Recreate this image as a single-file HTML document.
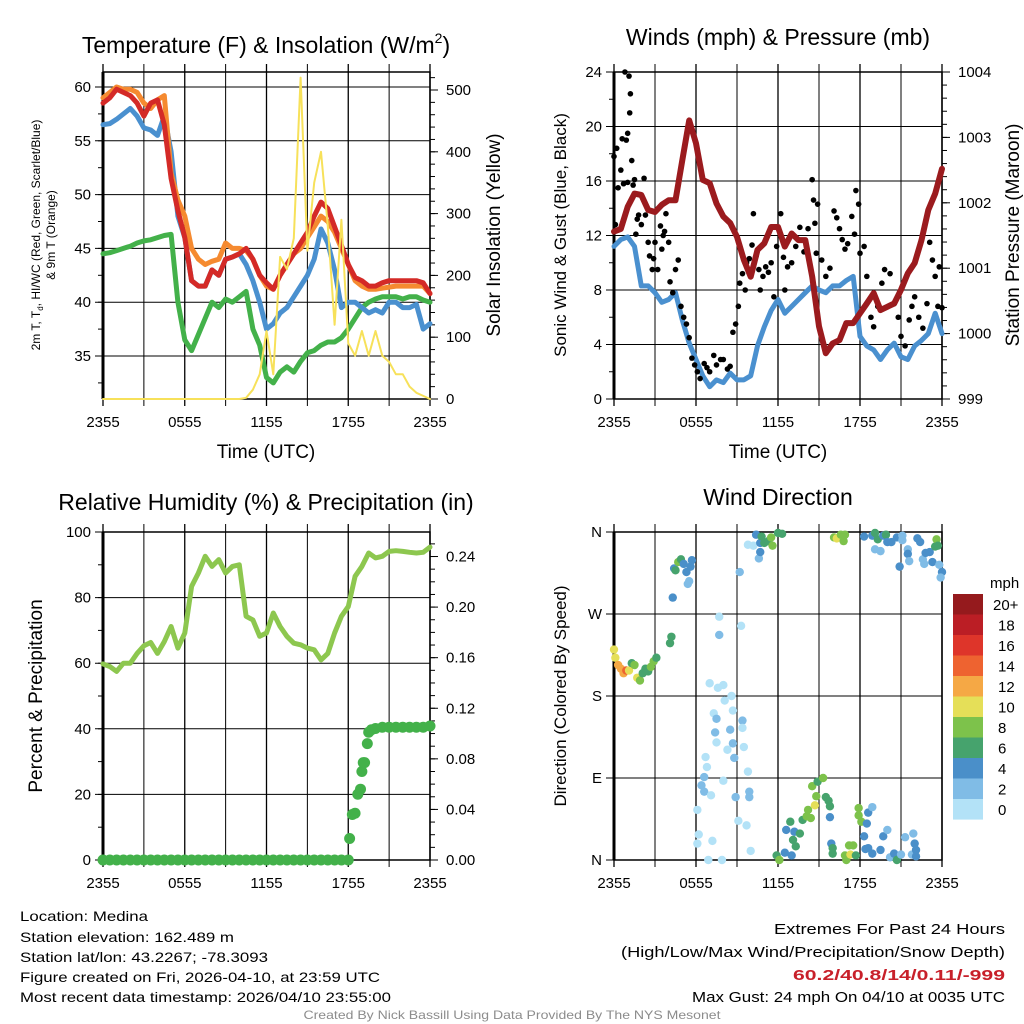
<!DOCTYPE html>
<html><head><meta charset="utf-8"><style>
html,body{margin:0;padding:0;background:#fff}
svg{display:block;font-family:"Liberation Sans",sans-serif}
</style></head><body>
<svg id="c" width="1024" height="1024" viewBox="0 0 1024 1024" xmlns="http://www.w3.org/2000/svg">
<g>
<text x="266" y="53" font-size="23" text-anchor="middle">Temperature (F) &amp; Insolation (W/m<tspan font-size="14" dy="-10">2</tspan><tspan dy="10">)</tspan></text>
<text transform="translate(40,235) rotate(-90)" font-size="12" text-anchor="middle">2m T, T<tspan font-size="8" dy="3">d</tspan><tspan dy="-3">, HI/WC (Red, Green, Scarlet/Blue)</tspan></text>
<text transform="translate(55,235) rotate(-90)" font-size="12" text-anchor="middle">&amp; 9m T (Orange)</text>
<text transform="translate(500,235) rotate(-90)" font-size="19" text-anchor="middle">Solar Insolation (Yellow)</text>
<text x="266" y="458" font-size="19" text-anchor="middle">Time (UTC)</text>
</g>
<g>
<text x="778" y="45" font-size="23" text-anchor="middle">Winds (mph) &amp; Pressure (mb)</text>
<text transform="translate(566,235) rotate(-90)" font-size="17" text-anchor="middle">Sonic Wind &amp; Gust (Blue, Black)</text>
<text transform="translate(1019,235) rotate(-90)" font-size="19" text-anchor="middle">Station Pressure (Maroon)</text>
<text x="778" y="458" font-size="19" text-anchor="middle">Time (UTC)</text>
</g>
<g>
<text x="266" y="510" font-size="23" text-anchor="middle">Relative Humidity (%) &amp; Precipitation (in)</text>
<text transform="translate(42,696) rotate(-90)" font-size="19" text-anchor="middle">Percent &amp; Precipitation</text>
</g>
<g>
<text x="778" y="505" font-size="23" text-anchor="middle">Wind Direction</text>
<text transform="translate(566,696) rotate(-90)" font-size="17" text-anchor="middle">Direction (Colored By Speed)</text>
<text x="990" y="588" font-size="15">mph</text>
</g>
<g font-size="14">
<text x="20" y="921" textLength="128" lengthAdjust="spacingAndGlyphs">Location: Medina</text>
<text x="20" y="942" textLength="214" lengthAdjust="spacingAndGlyphs">Station elevation: 162.489 m</text>
<text x="20" y="962" textLength="248" lengthAdjust="spacingAndGlyphs">Station lat/lon: 43.2267; -78.3093</text>
<text x="20" y="982" textLength="360" lengthAdjust="spacingAndGlyphs">Figure created on Fri, 2026-04-10, at 23:59 UTC</text>
<text x="20" y="1002" textLength="371" lengthAdjust="spacingAndGlyphs">Most recent data timestamp: 2026/04/10 23:55:00</text>
</g>
<g font-size="15" text-anchor="end">
<text x="1005" y="934" textLength="231" lengthAdjust="spacingAndGlyphs">Extremes For Past 24 Hours</text>
<text x="1005" y="957" textLength="384" lengthAdjust="spacingAndGlyphs">(High/Low/Max Wind/Precipitation/Snow Depth)</text>
<text x="1005" y="980" textLength="212" lengthAdjust="spacingAndGlyphs" fill="#c8202a" font-weight="bold">60.2/40.8/14/0.11/-999</text>
<text x="1005" y="1002" textLength="313" lengthAdjust="spacingAndGlyphs">Max Gust: 24 mph On 04/10 at 0035 UTC</text>
</g>
<text x="512" y="1019" font-size="12" fill="#8c8c8c" text-anchor="middle" textLength="417" lengthAdjust="spacingAndGlyphs">Created By Nick Bassill Using Data Provided By The NYS Mesonet</text>
</svg>
<script>
// ---- data (30-minute samples, hour 0 = 2355 UTC) ----
const timeLabels = ["2355","0555","1155","1755","2355"];
const tempRed = [58.5,59,59.8,59.5,59.2,58.5,57.3,58.5,58.8,56.5,51.5,48.5,46,42,41.5,41.5,43,42.5,44,44.2,44.5,45,44,42.5,41.8,41.2,42.5,43.5,44.5,45.5,46.5,48,49.3,48.7,47,45.3,43.5,42.3,42,41.5,41.5,41.8,42,42,42,42,42,41.8,40.8];
const tempOrange = [59,59.5,60,59.8,59.8,59.5,58.5,58,58.8,59.2,52,49.5,48,45,44,43.5,43.8,44,45.5,45,45,44.8,44,42.5,41.5,41.2,42.5,43.5,44.5,45,46,47,48,47.5,46.5,45,43.5,42,41.5,41.2,41.2,41.3,41.4,41.5,41.5,41.5,41.5,41.5,40.8];
const tempBlue = [56.5,56.6,57,57.5,58,57.3,56.2,56,55.5,57.3,54,48,46,42,41.5,41.5,43,42.5,44,44.2,44.5,43.5,42,40,37.5,38,39,39.5,40.5,41.5,42.5,44,46.8,45.5,43,39.5,40,40,39.5,39,39.3,39,40,40,39.5,39.5,39.8,37.5,38];
const dewGreen = [44.5,44.6,44.8,45,45.2,45.5,45.7,45.8,46,46.2,46.3,40,36.5,35.5,37,38.5,40,39.5,40.3,40,40.5,41,37.5,36,33,32.5,33.5,34,33.5,34.5,35.3,35.5,36,36.3,36.3,36.7,37.5,38.5,39.5,40,40.3,40.5,40.5,40.5,40.3,40.5,40.5,40.2,40];
const insolation = [0,0,0,0,0,0,0,0,0,0,0,0,0,0,0,0,0,0,0,0,0,2,15,40,110,40,230,210,260,520,240,350,400,280,120,290,90,70,110,70,110,70,60,40,40,20,10,5,0];
const pressure = [1001.56,1001.6,1001.94,1002.14,1002.12,1001.89,1001.86,1001.97,1002.04,1002.04,1002.65,1003.26,1002.91,1002.35,1002.3,1001.99,1001.79,1001.69,1001.48,1001.13,1000.87,1001.28,1001.38,1001.63,1001.63,1001.33,1001.53,1001.43,1001.43,1000.87,1000.11,999.7,999.85,999.9,1000.16,1000.16,1000.31,1000.46,1000.62,1000.36,1000.41,1000.46,1000.67,1000.92,1001.08,1001.43,1001.89,1002.14,1002.52];
const windSpeed = [11.2,11.7,11.9,11.2,8.3,8.3,7.8,7.1,7.3,7.8,5.8,4.1,2.9,1.7,0.9,1.4,1.2,1.9,1.4,1.4,1.7,3.9,5.3,6.5,7.3,6.3,6.8,7.3,7.8,8.3,8,7.8,8.3,8.3,8.7,9,4.6,3.9,3.6,2.9,3.6,4.1,3.1,2.9,3.9,4.3,4.8,6.3,4.8];
const gustHours = [0,0.1,0.2,0.3,0.5,0.6,0.7,0.8,0.9,1.0,1.0,1.1,1.2,1.15,1.3,1.4,1.5,1.6,1.7,1.8,2,2.2,2.3,2.5,2.6,2.8,2.9,3.0,3.2,3.4,3.5,3.6,3.7,3.8,4.0,4.1,4.3,4.5,4.7,4.9,5.1,5.3,5.5,5.7,5.9,6.1,6.3,6.6,6.8,7.0,7.3,7.5,7.8,8.0,8.3,8.5,8.7,8.9,9.1,9.2,9.4,9.6,9.7,9.9,10.1,10.2,10.4,10.6,10.7,10.9,11.1,11.3,11.5,11.7,11.9,12.2,12.4,12.5,12.7,13.0,13.3,13.6,13.9,14.2,14.5,14.6,14.7,14.8,14.9,15.2,15.5,15.8,16.1,16.3,16.5,16.7,16.9,17.1,17.4,17.6,17.7,17.9,18.0,18.3,18.5,18.8,19.0,19.3,19.6,19.8,20.2,20.5,20.8,21.0,21.3,21.6,21.8,22.0,22.3,22.6,22.9,23.1,23.3,23.5,23.7,23.8,24.0];
const gustMph = [17.8,12.8,18.4,15.5,16.8,19.1,15.8,24,19,15.9,19.5,23.7,22.4,21,17.5,15.7,16.1,12.1,13.2,13.5,12.8,16.2,13.5,11.5,10.5,9.5,10.3,11.5,9.5,12.7,11,12,12.3,13.6,11.5,8.6,7.8,9.5,10.2,6.8,6,5.5,4.5,3,2.5,2,1.5,2.6,2.3,2.0,3.2,2.5,2.9,2.9,2.2,2.4,4.9,5.5,6.8,8.5,9.2,8,10,10.3,11.3,13.6,10.5,9.5,8,9,9.7,9.3,10,7.5,11.2,13.6,10.4,8,9.7,10,11.2,12.6,10.8,12.5,16.1,14.6,12.9,10.7,14.3,10.2,9,9.6,13.8,13.3,12.5,11.7,11,11.4,13.4,12.1,15.3,14.3,10.7,11.2,9,6,5.3,6.8,8.5,9.5,9.2,7,6,4.6,3.9,5.8,6.8,7.5,6,5.2,7,11.5,10.2,9,6.8,9.7,6.7];
const rh = [59.8,59,57.5,60,60,63,65.3,66.3,63,66.6,71.2,64.6,69.2,83.4,87.5,92.6,89.5,91.6,87.5,89.5,90,74.3,73.2,68.2,69.2,75.3,71.2,68.2,66.1,65.6,64.6,64.1,61,63,69.2,74.3,77.3,86.5,89.5,93.6,92.1,92.6,94.1,94.3,94.1,93.8,93.6,93.8,95.4];
const precipHours = [18.1,18.3,18.5,18.7,18.9,19.0,19.1,19.2,19.4,19.5,19.7,20,20.5,21,21.5,22,22.5,23,23.5,24];
const precipIn = [0.017,0.036,0.037,0.052,0.056,0.070,0.077,0.077,0.092,0.101,0.103,0.104,0.105,0.105,0.105,0.105,0.105,0.105,0.105,0.106];
const dirHours = [0,0.1,0.3,0.5,0.7,0.9,1.1,1.3,1.5,1.7,1.9,2.1,2.3,2.5,2.7,2.9,3.1,4.1,4.2,4.3,4.4,4.5,4.7,4.9,5.1,5.3,5.4,5.5,5.6,5.7,7.7,7.7,9.3,9.2,7.0,7.6,8.0,8.6,8.1,7.3,7.5,8.7,7.4,8.5,7.5,8.7,8.3,8.8,9.4,9.4,9.5,6.7,6.8,6.6,6.4,6.6,7.1,8.0,8.9,9.8,9.9,9.9,6.1,6.2,6.1,7.2,9.1,9.7,10,6.9,7.9,9.8,10.2,10.4,10.7,10.6,10.8,11.0,11.3,11.6,11.5,12,12.3,10.7,11.9,12.1,12.5,13,12.6,12.9,13.2,13.1,13.3,13.6,13.8,14.1,14.2,14.4,14.7,14.8,14.5,14.9,15.3,15.5,15.7,15.8,15.8,15.9,16,16,16.1,16.3,16.6,16.8,16.9,16.9,17,17.2,17.3,17.5,17.7,17.9,17.9,18.1,18.5,18.6,18.9,18.3,18.4,18.6,18.9,19.5,19.7,20,20.2,20.5,20.7,21,21.3,21.8,21.9,22,22.1,22.1,18.3,19.1,18.9,19.1,19.3,19.5,19.7,19.9,20.0,20.3,20.7,20.9,21.1,21.1,21.5,21.5,21.6,22.2,22.4,22.6,22.7,22.8,23.1,23.3,23.5,23.6,23.7,23.8,24,23.9];
const dirDeg = [231,222,214,210,205,208,208,216,214,200,197,205,210,207,212,218,222,238,245,288,320,318,327,330,325,316,303,306,322,329,267,247,257,316,194,189,192,180,175,161,155,164,140,143,129,128,121,112,153,145,124,113,102,91,82,75,71,87,69,97,75,69,55,28,18,21,43,38,10,0,0,346,345,357,348,331,355,348,350,345,354,359,358,338,5,0,8,5,33,42,31,22,15,29,44,48,55,46,60,70,81,86,90,69,65,59,47,18,13,7,354,353,357,350,357,5,0,16,6,16,5,57,49,42,40,52,58,26,12,13,7,11,26,33,3,7,0,6,25,6,29,18,11,4,355,341,356,359,352,339,356,357,349,349,354,322,356,351,341,336,328,353,349,330,325,337,338,327,344,352,345,324,316,310];
const dirSpeed = [10,10,12,12,13,15,10,6,8,10,8,6,6,6,8,8,7,6,6,4,4,6,8,7,4,4,3,3,4,4,0,3,1,3,0,0,0,0,1,1,3,1,3,3,0,3,1,3,3,1,1,1,1,3,3,3,1,1,3,1,3,3,1,1,1,1,1,1,1,1,1,0,1,4,4,3,6,6,6,8,8,6,6,4,6,8,4,4,4,6,4,6,6,6,6,8,8,8,10,8,8,6,8,6,6,6,4,4,6,6,8,10,8,8,8,8,8,8,10,8,6,8,8,8,4,4,3,4,4,4,4,4,4,3,3,4,6,3,2,3,3,4,4,4,4,3,4,6,6,2,4,6,4,4,4,4,3,2,2,4,2,4,4,2,2,4,4,4,6,8,6,2,4,2];
const legendLabels = ["20+","18","16","14","12","10","8","6","4","2","0"];
const speedColors = ["#b3e2f7","#80bce6","#4a8fc9","#46a36d","#7dc24b","#e5df58","#f5a845","#ee6330","#de352a","#bb1e25","#951a1d"];

const NS="http://www.w3.org/2000/svg";
const svg=document.getElementById('c');
function el(tag,attrs,parent){const e=document.createElementNS(NS,tag);for(const k in attrs)e.setAttribute(k,attrs[k]);(parent||svg).appendChild(e);return e;}
function half(i){return i*0.5;}

function frame(P){
  const g=el('g',{});
  
  
  for(let h=0;h<=24;h+=3){const x=P.x(h);el('line',{x1:x,x2:x,y1:P.top-8,y2:P.bot+7,stroke:'#000','stroke-width':(h%6==0?1.3:1)},g);}
  P.yMajor.forEach(v=>{const y=P.y(v);el('line',{x1:P.left-8,x2:P.right,y1:y,y2:y,stroke:'#000','stroke-width':1},g);
    const t=el('text',{x:P.left-12,y:y+5,'font-size':15,'text-anchor':'end'},g);t.textContent=P.yFmt?P.yFmt(v):v;});
  (P.yMinor||[]).forEach(v=>{const y=P.y(v);el('line',{x1:P.left-5,x2:P.left,y1:y,y2:y,stroke:'#000','stroke-width':1},g);});
  if(P.r){P.r.major.forEach(v=>{const y=P.r.y(v);el('line',{x1:P.right,x2:P.right+8,y1:y,y2:y,stroke:'#000','stroke-width':1},g);
      const t=el('text',{x:P.right+16,y:y+5,'font-size':15},g);t.textContent=P.r.fmt(v);});
    P.r.minor.forEach(v=>{const y=P.r.y(v);el('line',{x1:P.right,x2:P.right+5,y1:y,y2:y,stroke:'#000','stroke-width':1},g);});}
  el('rect',{x:P.left,y:P.top,width:P.right-P.left,height:P.bot-P.top,fill:'none',stroke:'#000','stroke-width':1.5},g);
  el('line',{x1:P.left,x2:P.left,y1:P.top,y2:P.bot,stroke:'#000','stroke-width':3},g);
  timeLabels.forEach((s,i)=>{const t=el('text',{x:P.x(i*6),y:P.bot+28,'font-size':15,'text-anchor':'middle'},g);
    
    
    t.textContent=s;});
}
function range(a,b,s){const r=[];for(let v=a;v<=b+1e-9;v+=s)r.push(+v.toFixed(4));return r;}
function line(P,ys,yf,color,w,name){
  const pts=ys.map((v,i)=>P.x(half(i)).toFixed(1)+','+yf(v).toFixed(1)).join(' ');
  const p=el('polyline',{points:pts,fill:'none',stroke:color,'stroke-width':w,'stroke-linejoin':'round','stroke-linecap':'round'});
  
  
}

// Panel 1
const P1={name:'temperature',left:103,right:430,top:72,bot:399};
P1.x=h=>P1.left+h*(P1.right-P1.left)/24;
P1.y=v=>87+(60-v)*10.76;
P1.yMajor=[35,40,45,50,55,60];P1.yMinor=range(32.5,60,2.5);
const ins=v=>399-v*0.618;
P1.r={y:ins,major:range(0,500,100),minor:range(0,520,20),fmt:v=>v};
frame(P1);
line(P1,dewGreen,P1.y,'#43b14a',5,'dewpoint-line');
line(P1,tempBlue,P1.y,'#4a90cf',5,'heat-index-windchill-line');
line(P1,tempOrange,P1.y,'#f58a30',5,'temperature-9m-line');
line(P1,tempRed,P1.y,'#d42a27',5,'temperature-2m-line');
line(P1,insolation,ins,'#f7e15a',2,'insolation-line');

// Panel 2
const P2={name:'wind',left:614,right:942,top:72,bot:399};
P2.x=h=>P2.left+h*(P2.right-P2.left)/24;
P2.y=v=>399-v*13.625;
P2.yMajor=range(0,24,4);P2.yMinor=range(0,24,2);
const pr=v=>399-(v-999)*65.4;
P2.r={y:pr,major:range(999,1004,1),minor:range(999,1004,0.2),fmt:v=>v};
frame(P2);
line(P2,windSpeed,P2.y,'#4a90cf',5,'sonic-wind-line');
gustHours.forEach((h,i)=>{const c=el('circle',{cx:P2.x(h),cy:P2.y(gustMph[i]),r:2.8,fill:'#000'});
  
  });
line(P2,pressure,pr,'#9b1b1e',6,'pressure-line');

// Panel 3
const P3={name:'humidity',left:103,right:430,top:532,bot:860};
P3.x=h=>P3.left+h*(P3.right-P3.left)/24;
P3.y=v=>860-v*3.28;
P3.yMajor=range(0,100,20);P3.yMinor=range(0,100,10);
const pc=v=>860-v*1264.5;
P3.r={y:pc,major:range(0,0.24,0.04),minor:range(0,0.25,0.01),fmt:v=>v.toFixed(2)};
frame(P3);
line(P3,rh,P3.y,'#8dc74f',5,'relative-humidity-line');
for(let i=0;i<=36;i++){const c=el('circle',{cx:P3.x(half(i)),cy:pc(0),r:5.5,fill:'#43b14a'});
  
  }
precipHours.forEach((h,i)=>{const c=el('circle',{cx:P3.x(h),cy:pc(precipIn[i]),r:5.5,fill:'#43b14a'});
  
  });

// Panel 4
const P4={name:'direction',left:614,right:942,top:532,bot:860};
P4.x=h=>P4.left+h*(P4.right-P4.left)/24;
P4.y=d=>860-d*(328/360);
P4.yMajor=[0,90,180,270,360];
const dirNames={0:'N',90:'E',180:'S',270:'W',360:'N'};
P4.yFmt=v=>dirNames[v];
frame(P4);
dirHours.forEach((h,i)=>{const s=dirSpeed[i];const k=Math.min(10,Math.floor(s/2));
  const c=el('circle',{cx:P4.x(h),cy:P4.y(dirDeg[i]),r:4.2,fill:speedColors[k]});
  
  });
legendLabels.forEach((lab,i)=>{const y=594+i*20.5;
  const r=el('rect',{x:953,y:y,width:30,height:20.6,fill:speedColors[10-i]});
  
  
  const t=el('text',{x:lab.length>2?993:998,y:y+16,'font-size':15});
  
  
  t.textContent=lab;});
</script>
</body></html>
